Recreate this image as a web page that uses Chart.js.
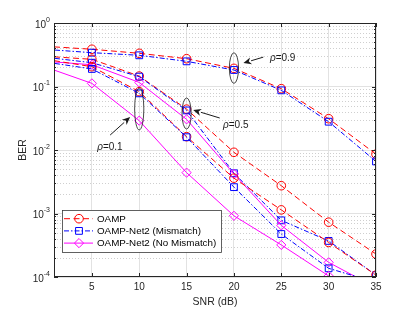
<!DOCTYPE html>
<html>
<head>
<meta charset="utf-8">
<script src="https://cdn.jsdelivr.net/npm/chart.js@4.4.1/dist/chart.umd.min.js"></script>
<style>
    html, body { margin: 0; padding: 0; background: #fff; }
    canvas { display: block; }
</style>
</head>
<body>
<canvas id="ber" width="415" height="312"></canvas>
<script>
'use strict';

// SNR grid of the simulation (first point sits left of the visible axis)
const snrDb    = [0, 5, 10, 15, 20, 25, 30, 35];
const xTicks   = [5, 10, 15, 20, 25, 30, 35];
const yDecades = [-4, -3, -2, -1, 0];

// rho = 0.9
const oampRho09 = [0.43, 0.386, 0.333, 0.274, 0.193, 0.0924, 0.0311, 0.0086];
const misRho09  = [0.385, 0.341, 0.31, 0.249, 0.182, 0.087, 0.0279, 0.0066];
// rho = 0.5
const oampRho05 = [0.30, 0.268, 0.146, 0.044, 0.0092, 0.00274, 0.00073, 0.00023];
const misRho05  = [0.29, 0.237, 0.143, 0.042, 0.0043, 0.00078, 0.00037, 0.000107];
const noRho05   = [0.25, 0.22, 0.116, 0.0304, 0.0042, 0.00065, 0.00017, 0.000068];
// rho = 0.1
const oampRho01 = [0.27, 0.205, 0.083, 0.0162, 0.0036, 0.00114, 0.00035, 0.000107];
const misRho01  = [0.244, 0.189, 0.078, 0.0159, 0.0026, 0.000475, 0.000137, 0.000082];
const noRho01   = [0.205, 0.112, 0.029, 0.0044, 0.00092, 0.00032, 0.000104, 0.00005];

const FONT = '"Liberation Sans", Arial, sans-serif';
const INK  = '#262626';

const methods = {
    oamp: {label: 'OAMP', color: '#ff0000', dash: [6, 3.5], point: 'circle', radius: 4.3},
    mis:  {label: 'OAMP-Net2 (Mismatch)', color: '#0000ff', dash: [5, 2, 1.5, 2], point: 'rect', radius: 4.8},
    no:   {label: 'OAMP-Net2 (No Mismatch)', color: '#ff00ff', dash: [], point: 'rectRot', radius: 4.6}
};

// ellipse + arrow notes, given in axis units
const notes = [
    {text: '=0.9', snr: 20, hi: 0.34,   lo: 0.112,  from: [23.1, 0.29],   to: [21.0, 0.234],  at: [23.8, 0.28]},
    {text: '=0.5', snr: 15, hi: 0.066,  lo: 0.0214, from: [18.5, 0.0319], to: [15.7, 0.0427], at: [18.85, 0.0248]},
    {text: '=0.1', snr: 10, hi: 0.0947, lo: 0.0207, from: [6.93, 0.0172], to: [9.04, 0.033],  at: [5.56, 0.0111]}
];

function makeSet(m, values) {
    return {
        label: m.label,
        data: snrDb.map((x, i) => ({x: x, y: values[i]})),
        borderColor: m.color,
        borderWidth: 1,
        borderDash: m.dash,
        pointStyle: m.point,
        pointRadius: m.radius,
        pointBorderColor: m.color,
        pointBackgroundColor: 'rgba(255,255,255,0)',
        pointBorderWidth: 1,
        tension: 0
    };
}

function drawMarker(ctx, m, x, y) {
    const r = m.radius;
    ctx.beginPath();
    if (m.point === 'circle') {
        ctx.arc(x, y, r, 0, 2 * Math.PI);
    } else if (m.point === 'rect') {
        const s = r * Math.SQRT1_2;
        ctx.rect(x - s, y - s, 2 * s, 2 * s);
    } else {
        ctx.moveTo(x, y - r);
        ctx.lineTo(x + r, y);
        ctx.lineTo(x, y + r);
        ctx.lineTo(x - r, y);
        ctx.closePath();
    }
    ctx.stroke();
}

const axesFrame = {
    id: 'axesFrame',
    beforeDatasetsDraw(chart) {
        const {ctx, chartArea: a, scales: {y}} = chart;
        /*
         * Dotted minor grid of the log axis.
         */
        ctx.save();
        ctx.strokeStyle = '#cfcfcf';
        ctx.lineWidth = 1;
        ctx.setLineDash([1, 2]);
        for (let d = yDecades[0]; d < yDecades[yDecades.length - 1]; d++) {
            for (let m = 2; m <= 9; m++) {
                const py = Math.round(y.getPixelForValue(m * Math.pow(10, d))) + 0.5;
                ctx.beginPath();
                ctx.moveTo(a.left, py);
                ctx.lineTo(a.right, py);
                ctx.stroke();
            }
        }
        ctx.restore();
    },
    afterDatasetsDraw(chart) {
        const {ctx, chartArea: a, scales: {x, y}} = chart;
        ctx.save();
        ctx.setLineDash([]);
        ctx.strokeStyle = INK;
        ctx.fillStyle = INK;
        ctx.lineWidth = 1;

        // box and inward ticks
        ctx.strokeRect(a.left + 0.5, a.top + 0.5, a.right - a.left - 1, a.bottom - a.top - 1);
        ctx.beginPath();
        xTicks.forEach(v => {
            const px = Math.round(x.getPixelForValue(v)) + 0.5;
            ctx.moveTo(px, a.bottom); ctx.lineTo(px, a.bottom - 4);
            ctx.moveTo(px, a.top);    ctx.lineTo(px, a.top + 4);
        });
        yDecades.forEach(d => {
            const py = Math.round(y.getPixelForValue(Math.pow(10, d))) + 0.5;
            ctx.moveTo(a.left, py);  ctx.lineTo(a.left + 4, py);
            ctx.moveTo(a.right, py); ctx.lineTo(a.right - 4, py);
            if (d === yDecades[yDecades.length - 1]) return;
            for (let m = 2; m <= 9; m++) {
                const pm = Math.round(y.getPixelForValue(m * Math.pow(10, d))) + 0.5;
                ctx.moveTo(a.left, pm);  ctx.lineTo(a.left + 2, pm);
                ctx.moveTo(a.right, pm); ctx.lineTo(a.right - 2, pm);
            }
        });
        ctx.stroke();

        // tick labels
        ctx.textBaseline = 'middle';
        ctx.textAlign = 'center';
        ctx.font = '10px ' + FONT;
        xTicks.forEach(v => ctx.fillText(String(v), x.getPixelForValue(v), a.bottom + 10));

        ctx.textAlign = 'left';
        yDecades.forEach(d => {
            const py = y.getPixelForValue(Math.pow(10, d));
            const exp = String(d);
            ctx.font = '7px ' + FONT;
            const ew = ctx.measureText(exp).width;
            ctx.font = '10px ' + FONT;
            const bw = ctx.measureText('10').width;
            const right = a.left - 4;
            ctx.fillText('10', right - ew - bw, py + 2);
            ctx.font = '7px ' + FONT;
            ctx.fillText(exp, right - ew, py - 3);
        });

        // axis titles
        ctx.font = '10.5px ' + FONT;
        ctx.textAlign = 'center';
        ctx.fillText('SNR (dB)', (a.left + a.right) / 2, a.bottom + 25);
        ctx.save();
        ctx.translate(a.left - 31, (a.top + a.bottom) / 2);
        ctx.rotate(-Math.PI / 2);
        ctx.fillText('BER', 0, 0);
        ctx.restore();

        // rho notes
        ctx.strokeStyle = '#1a1a1a';
        ctx.fillStyle = '#1a1a1a';
        notes.forEach(n => {
            const cx = x.getPixelForValue(n.snr);
            const t = y.getPixelForValue(n.hi);
            const b = y.getPixelForValue(n.lo);
            ctx.lineWidth = 0.8;
            ctx.beginPath();
            ctx.ellipse(cx, (t + b) / 2, 4.6, (b - t) / 2, 0, 0, 2 * Math.PI);
            ctx.stroke();

            const x0 = x.getPixelForValue(n.from[0]), y0 = y.getPixelForValue(n.from[1]);
            const x1 = x.getPixelForValue(n.to[0]),   y1 = y.getPixelForValue(n.to[1]);
            const ang = Math.atan2(y1 - y0, x1 - x0);
            const hl = 8, hw = 3.5;
            const bx = x1 - hl * Math.cos(ang), by = y1 - hl * Math.sin(ang);
            ctx.lineWidth = 1;
            ctx.beginPath();
            ctx.moveTo(x0, y0);
            ctx.lineTo(bx, by);
            ctx.stroke();
            ctx.beginPath();
            ctx.moveTo(x1, y1);
            ctx.lineTo(bx + hw * Math.sin(ang), by - hw * Math.cos(ang));
            ctx.lineTo(x1 - 0.7 * hl * Math.cos(ang), y1 - 0.7 * hl * Math.sin(ang));
            ctx.lineTo(bx - hw * Math.sin(ang), by + hw * Math.cos(ang));
            ctx.closePath();
            ctx.fill();

            const tx = x.getPixelForValue(n.at[0]), ty = y.getPixelForValue(n.at[1]);
            ctx.textAlign = 'left';
            ctx.font = 'italic 10px ' + FONT;
            ctx.fillText('ρ', tx, ty);
            const rw = ctx.measureText('ρ').width;
            ctx.font = '10px ' + FONT;
            ctx.fillText(n.text, tx + rw, ty);
        });

        // legend box, lower left inside the axes
        const lx = a.left + 8, ly = a.bottom - 67, lw = 159, lh = 42;
        ctx.fillStyle = '#fff';
        ctx.fillRect(lx, ly, lw, lh);
        ctx.strokeStyle = '#3a3a3a';
        ctx.lineWidth = 0.8;
        ctx.strokeRect(lx + 0.5, ly + 0.5, lw, lh);
        ctx.font = '9.8px ' + FONT;
        ctx.textAlign = 'left';
        [methods.oamp, methods.mis, methods.no].forEach((m, i) => {
            const ry = ly + 8.7 + i * 12.2;
            ctx.strokeStyle = m.color;
            ctx.lineWidth = 1;
            ctx.setLineDash(m.dash);
            ctx.beginPath();
            ctx.moveTo(lx + 2, ry);
            ctx.lineTo(lx + 31, ry);
            ctx.stroke();
            ctx.setLineDash([]);
            drawMarker(ctx, m, lx + 17, ry);
            ctx.fillStyle = '#000';
            ctx.fillText(m.label, lx + 35, ry + 0.5);
        });
        ctx.restore();
    }
};

new Chart(document.getElementById('ber'), {
    type: 'line',
    data: {
        datasets: [
            makeSet(methods.no,   noRho01),
            makeSet(methods.mis,  misRho01),
            makeSet(methods.oamp, oampRho01),
            makeSet(methods.no,   noRho05),
            makeSet(methods.mis,  misRho05),
            makeSet(methods.oamp, oampRho05),
            makeSet(methods.mis,  misRho09),
            makeSet(methods.oamp, oampRho09)
        ]
    },
    options: {
        responsive: false,
        animation: false,
        devicePixelRatio: 1,
        layout: {padding: {top: 23, right: 39, left: 0, bottom: 0}},
        scales: {
            x: {
                type: 'linear',
                min: 1,
                max: 35,
                afterBuildTicks: s => { s.ticks = xTicks.map(v => ({value: v})); },
                afterFit: s => { s.height = 35; },
                ticks: {display: false},
                grid: {color: '#e2e2e2', drawTicks: false},
                border: {display: false}
            },
            y: {
                type: 'logarithmic',
                min: 1e-4,
                max: 1,
                afterBuildTicks: s => { s.ticks = yDecades.map(d => ({value: Math.pow(10, d)})); },
                afterFit: s => { s.width = 54; },
                ticks: {display: false},
                grid: {color: '#e2e2e2', drawTicks: false},
                border: {display: false}
            }
        },
        plugins: {
            legend: {display: false},
            tooltip: {enabled: false}
        }
    },
    plugins: [axesFrame]
});
</script>
</body>
</html>
